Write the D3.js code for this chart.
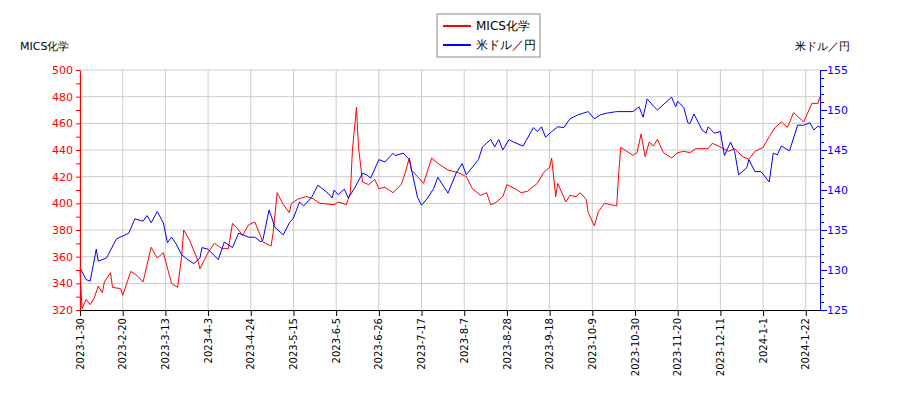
<!DOCTYPE html>
<html><head><meta charset="utf-8">
<script src="https://cdn.jsdelivr.net/npm/d3@7"></script>
<style>body{margin:0;background:#fff;font-family:"DejaVu Sans",sans-serif;}</style>
</head><body><div id="chart"></div>
<script>
// days after 2023-01-30
var redDays = [0,1,3,5,7,9,11,12,15,16,20,21,25,28,31,35,38,41,45,48,50,51,54,58,59,63,66,70,73,75,77,80,83,86,90,94,95,97,100,103,104,107,111,114,118,125,127,131,133,134,136,137,139,142,145,147,150,154,158,160,162,163,166,169,173,176,181,186,190,193,197,200,202,204,208,210,214,217,220,225,228,231,232,234,235,239,241,244,246,249,250,253,255,258,261,264,265,266,268,272,274,276,278,280,282,284,287,291,294,297,300,303,309,311,314,319,322,326,329,332,336,339,342,345,348,351,356,360,363,364];
var redVals = [350,321,328,324,329,338,333,341,348,337,336,331,349,346,341,367,359,363,340,337,360,380,372,357,351,363,370,366,366,385,382,376,384,386,371,368,378,408,399,393,400,403,405,404,400,399,401,399,408,440,472,442,416,414,418,411,412,408,414,423,434,425,420,415,434,430,425,423,420,411,406,408,399,400,405,414,411,408,409,415,423,427,434,405,415,401,406,405,408,403,393,383,394,400,399,398,423,442,440,436,438,452,435,446,443,448,438,434,438,439,438,441,441,445,443,439,441,435,433,439,442,450,457,461,457,468,461,475,475,480];
var blueDays = [0,3,5,8,9,13,18,24,27,31,33,35,38,41,43,45,47,50,53,56,59,60,63,68,71,75,78,83,86,89,90,93,96,100,103,105,108,110,114,117,122,124,125,127,130,132,135,139,141,143,147,150,154,155,159,162,166,168,171,174,176,181,185,188,190,196,198,202,204,206,208,211,214,218,223,225,227,229,232,235,238,241,245,250,253,256,259,264,272,275,277,279,282,284,291,293,294,297,299,300,302,306,308,309,312,315,317,320,322,324,328,329,332,335,339,341,343,345,349,353,356,359,361,363,364];
var blueVals = [130.3,128.8,128.6,132.6,131.1,131.5,133.9,134.6,136.4,136.1,136.8,135.9,137.3,135.9,133.4,134.1,133.4,131.9,131.3,130.8,131.5,132.8,132.6,131.3,133.5,132.8,134.6,134.1,134.1,133.5,133.8,137.5,135.3,134.4,135.9,136.5,138.5,138.0,139.1,140.6,139.6,139.0,140.0,139.4,140.1,139.0,140.2,142.1,141.9,141.5,143.8,143.5,144.6,144.3,144.6,143.8,139.1,138.1,139.0,140.2,141.6,139.6,142.1,143.3,141.9,143.8,145.4,146.3,145.4,146.3,145.0,146.3,145.9,145.5,147.8,147.3,147.9,146.6,147.3,147.9,147.8,148.9,149.4,149.8,148.9,149.4,149.6,149.8,149.8,150.4,149.1,151.4,150.5,150.0,151.6,150.4,151.1,150.3,148.4,148.3,149.5,147.5,147.1,147.9,147.1,147.3,144.3,146.0,144.8,141.9,142.8,143.8,142.3,142.3,141.0,144.6,144.4,145.5,144.9,148.1,148.1,148.4,147.5,148.0,147.8];
var seriesNames = ["MICS化学", "米ドル／円"];

var start = new Date(2023, 0, 30), end = new Date(2024, 0, 29);
var W = 900, H = 400, L = 80, R = 820, T = 70, B = 310;
var svg = d3.select("#chart").append("svg").attr("width", W).attr("height", H);

var x = d3.scaleTime().domain([start, end]).range([L, R]);
var yL = d3.scaleLinear().domain([320, 500]).range([B, T]);
var yR = d3.scaleLinear().domain([125, 155]).range([B, T]);
var xTicks = d3.range(0, 364, 21).map(function(d) { return d3.timeDay.offset(start, d); });

// grid
svg.append("g").selectAll("line").data(xTicks).enter().append("line")
    .attr("x1", function(d) { return x(d); }).attr("x2", function(d) { return x(d); })
    .attr("y1", T).attr("y2", B).attr("stroke", "#ccc");
svg.append("g").selectAll("line").data(d3.range(340, 501, 20)).enter().append("line")
    .attr("x1", L).attr("x2", R)
    .attr("y1", function(d) { return yL(d); }).attr("y2", function(d) { return yL(d); })
    .attr("stroke", "#ccc");

function pts(days, vals) {
    return days.map(function(d, i) { return [d3.timeDay.offset(start, d), vals[i]]; });
}
svg.append("path").datum(pts(redDays, redVals)).attr("fill", "none").attr("stroke", "#f00")
    .attr("d", d3.line().x(function(d) { return x(d[0]); }).y(function(d) { return yL(d[1]); }));
svg.append("path").datum(pts(blueDays, blueVals)).attr("fill", "none").attr("stroke", "#00f")
    .attr("d", d3.line().x(function(d) { return x(d[0]); }).y(function(d) { return yR(d[1]); }));

// axes
var fmt = function(d) { return d.getFullYear() + "-" + (d.getMonth() + 1) + "-" + d.getDate(); };
var gx = svg.append("g").attr("transform", "translate(0," + B + ")")
    .call(d3.axisBottom(x).tickValues(xTicks).tickFormat(fmt).tickSizeOuter(0));
gx.selectAll("text").attr("transform", "rotate(-90)").attr("x", -8).attr("y", -4)
    .style("text-anchor", "end").style("font-size", "10px").style("font-family", "DejaVu Sans");

var gl = svg.append("g").attr("transform", "translate(" + L + ",0)")
    .call(d3.axisLeft(yL).tickValues(d3.range(320, 501, 10)).tickSize(4).tickSizeOuter(0)
        .tickFormat(function(d) { return d % 20 === 0 ? d : ""; }));
gl.selectAll("line, path").attr("stroke", "#f00");
gl.selectAll("text").attr("fill", "#f00").style("font-size", "11px").style("font-family", "DejaVu Sans");

var gr = svg.append("g").attr("transform", "translate(" + R + ",0)")
    .call(d3.axisRight(yR).tickValues(d3.range(125, 156, 1)).tickSize(4).tickSizeOuter(0)
        .tickFormat(function(d) { return d % 5 === 0 ? d : ""; }));
gr.selectAll("line, path").attr("stroke", "#00f");
gr.selectAll("text").attr("fill", "#00f").style("font-size", "11px").style("font-family", "DejaVu Sans");
gr.selectAll(".tick").filter(function(d) { return d % 5 === 0; }).select("line").attr("x2", 7);

svg.append("text").attr("x", 20).attr("y", 50).text(seriesNames[0]).style("font-size", "11px");
svg.append("text").attr("x", 850).attr("y", 50).attr("text-anchor", "end").text(seriesNames[1]).style("font-size", "11px");

// legend
var lg = svg.append("g");
lg.append("rect").attr("x", 437).attr("y", 14).attr("width", 103).attr("height", 43)
    .attr("fill", "#fff").attr("stroke", "#888");
["#f00", "#00f"].forEach(function(c, i) {
    lg.append("line").attr("x1", 443).attr("x2", 471).attr("y1", 26 + i * 19).attr("y2", 26 + i * 19).attr("stroke", c).attr("stroke-width", 2);
    lg.append("text").attr("x", 476).attr("y", 30 + i * 19).text(seriesNames[i]).style("font-size", "12px");
});
</script></body></html>
